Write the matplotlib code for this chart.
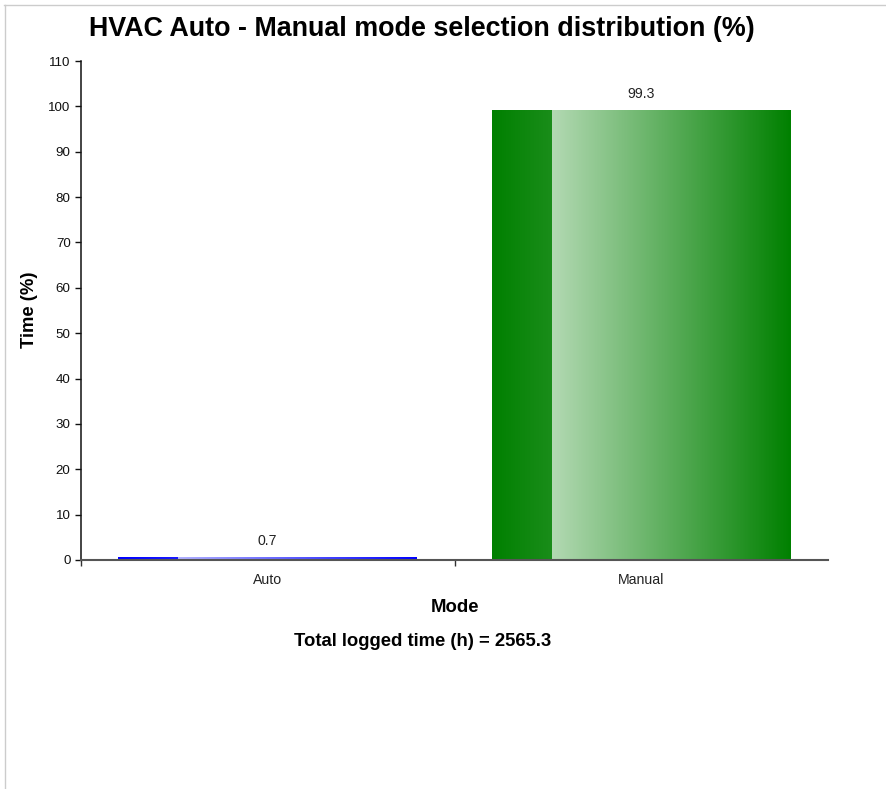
import matplotlib
matplotlib.use("Agg")
import matplotlib.pyplot as plt
import numpy as np
from matplotlib.colors import to_rgb
from matplotlib.lines import Line2D

plt.rcParams['font.family'] = ['Liberation Sans', 'DejaVu Sans']

# ---- data ----
categories = ['Auto', 'Manual']
values = [0.7, 99.3]
bar_colors = ['#0000ff', '#008000']
total_hours = 2565.3
title = 'HVAC Auto - Manual mode selection distribution (%)'
y_ticks = [0, 10, 20, 30, 40, 50, 60, 70, 80, 90, 100, 110]

W, H = 886, 789
fig = plt.figure(figsize=(W / 100, H / 100), dpi=100)
fig.patch.set_facecolor('white')

L, R, T, B = 81, 828, 61, 560
ax = fig.add_axes([L / W, 1 - B / H, (R - L) / W, (B - T) / H])

x = np.arange(len(categories))
bars = ax.bar(x, values, width=0.8, color='none', edgecolor='none')


def mix(c, f):
    c = np.array(to_rgb(c))
    return c + (1 - c) * f


for bar, col in zip(bars, bar_colors):
    x0, w, h = bar.get_x(), bar.get_width(), bar.get_height()
    n = 500
    n1 = int(n * 0.2)
    base = np.array(to_rgb(col))
    left = np.linspace(base, mix(col, 0.1), n1)
    right = np.linspace(mix(col, 0.7), base, n - n1)
    grad = np.vstack([left, right])[None, :, :]
    im = ax.imshow(grad, extent=(x0, x0 + w, 0, h), aspect='auto',
                   interpolation='nearest', zorder=2)
    im.set_clip_path(bar)

for xi, v in zip(x, values):
    ax.annotate(f'{v}', (xi, v), xytext=(0, 6.5), textcoords='offset points',
                ha='center', va='bottom', fontsize=10.2, color='#222222')

ax.set_xlim(-0.5, len(categories) - 0.5)
ax.set_ylim(0, 110)
ax.set_aspect('auto')

ax.set_yticks(y_ticks)
ax.tick_params(axis='y', length=4.5, width=1, labelsize=9.6, pad=3, colors='#111111')
ax.set_xticks(np.arange(len(categories)) - 0.5)
ax.set_xticklabels([])
ax.set_xticks(x, minor=True)
ax.set_xticklabels(categories, minor=True)
ax.tick_params(axis='x', which='major', length=4.5, width=1, colors='#333333')
ax.tick_params(axis='x', which='minor', length=0, labelsize=10.2, pad=9, labelcolor='#222222')

for s in ['top', 'right']:
    ax.spines[s].set_visible(False)
ax.spines['left'].set_color('#111111')
ax.spines['left'].set_linewidth(1.1)
ax.spines['bottom'].set_color('#555555')
ax.spines['bottom'].set_linewidth(1.5)

fig.text(422 / W, 1 - 29 / H, title, ha='center', va='center',
         fontsize=19.4, fontweight='bold')
fig.text(455 / W, 1 - 607 / H, 'Mode', ha='center', va='center',
         fontsize=13.3, fontweight='bold')
fig.text(423 / W, 1 - 641 / H, f'Total logged time (h) = {total_hours}',
         ha='center', va='center', fontsize=13.3, fontweight='bold')
fig.text(30 / W, 1 - 310 / H, 'Time (%)', ha='center', va='center',
         rotation=90, fontsize=13.3, fontweight='bold')

# light frame lines
fig.add_artist(Line2D([4 / W, 1], [1 - 4.5 / H, 1 - 4.5 / H], color='#cccccc', lw=1))
fig.add_artist(Line2D([4.5 / W, 4.5 / W], [0, 1 - 4.5 / H], color='#cccccc', lw=1))

fig.savefig('out.png', dpi=100, facecolor='white')
